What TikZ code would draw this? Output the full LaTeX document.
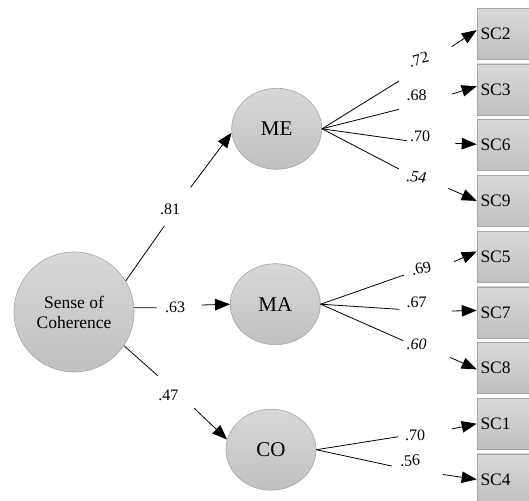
\documentclass[tikz,border=0pt]{standalone}
\usepackage{fontspec}
\setmainfont{Liberation Serif}
\usetikzlibrary{arrows.meta,shapes.geometric}
\definecolor{fillTop}{RGB}{216,216,216}
\definecolor{fillBot}{RGB}{192,192,192}
\definecolor{edgeGray}{RGB}{165,165,165}
\begin{document}
\begin{tikzpicture}[x=1pt,y=-1pt,
  latent/.style={ellipse,draw=edgeGray,line width=0.6pt,top color=fillTop,bottom color=fillBot,
     minimum width=90pt,minimum height=81pt,inner sep=0pt,font=\fontsize{21}{24}\selectfont},
  bigcirc/.style={circle,draw=edgeGray,line width=0.6pt,top color=fillTop,bottom color=fillBot,
     minimum size=120pt,inner sep=0pt,align=center,font=\fontsize{17.5}{20}\selectfont},
  obsbox/.style={rectangle,draw=edgeGray,line width=0.6pt,top color=fillTop,bottom color=fillBot,
     minimum height=51pt,text width=45pt,inner xsep=3.5pt,inner ysep=0pt,align=left,
     font=\fontsize{17.5}{20}\selectfont},
  coef/.style={inner sep=0pt,font=\fontsize{16}{18}\selectfont},
  seg/.style={line width=0.8pt},
  arr/.style={line width=0.8pt,-{Triangle[length=15pt,width=11.5pt]}}]
\useasboundingbox (0,0) rectangle (529,500);

% nodes
\node[bigcirc] (S) at (74,312) {Sense of\\Coherence};
\node[latent] (ME) at (276.7,128.8) {ME};
\node[latent] (MA) at (275.3,304.2) {MA};
\node[latent] (CO) at (271,449.7) {CO};

\node[obsbox] (SC2) at (503,33.8) {SC2};
\node[obsbox] (SC3) at (503,89.5) {SC3};
\node[obsbox] (SC6) at (503,145.2) {SC6};
\node[obsbox] (SC9) at (503,200.9) {SC9};
\node[obsbox] (SC5) at (503,256.6) {SC5};
\node[obsbox] (SC7) at (503,312.3) {SC7};
\node[obsbox] (SC8) at (503,368.0) {SC8};
\node[obsbox] (SC1) at (503,423.7) {SC1};
\node[obsbox] (SC4) at (503,479.4) {SC4};

% structural paths
\coordinate (sa1) at (164.3,226);   \coordinate (sa2) at (190.7,187.3);
\coordinate (sb1) at (156.7,307.7); \coordinate (sb2) at (201.7,305);
\coordinate (sc1) at (157.7,375.7); \coordinate (sc2) at (194.3,408.3);
\draw[seg] (S.31) -- (sa1);
\draw[arr] (sa2) -- (ME.185);
\node[coef] (l81) at (170,209.3) {.81};
\draw[seg] (S.4) -- (sb1);
\draw[arr] (sb2) -- (MA.180);
\node[coef] (l63) at (175,307.7) {.63};
\draw[seg] (S.-34) -- (sc1);
\draw[arr] (sc2) -- (CO.167);
\node[coef] (l47) at (168.3,395.7) {.47};

% ME loadings
\coordinate (e2a) at (399,81);      \coordinate (e2b) at (451.7,46.7);
\coordinate (e3a) at (399,109.3);   \coordinate (e3b) at (452.3,94);
\coordinate (e6a) at (406.7,140.7); \coordinate (e6b) at (455,143.3);
\coordinate (e9a) at (399,169);     \coordinate (e9b) at (448.3,188.3);
\draw[seg] (ME.east) -- (e2a); \draw[arr] (e2b) -- (SC2.172);
\draw[seg] (ME.east) -- (e3a); \draw[arr] (e3b) -- (SC3.173);
\draw[seg] (ME.east) -- (e6a); \draw[arr] (e6b) -- (SC6.178);
\draw[seg] (ME.east) -- (e9a); \draw[arr] (e9b) -- (SC9.180);
\node[coef,rotate=15] (l72) at (418.8,59.5) {.72};
\node[coef] (l68) at (416.7,95) {.68};
\node[coef] (l70a) at (420,136.7) {.70};
\node[coef,rotate=-6] (l54) at (416.5,177.5) {\itshape .54};

% MA loadings
\coordinate (a5a) at (404,275);     \coordinate (a5b) at (454,261.7);
\coordinate (a7a) at (399.3,309.3); \coordinate (a7b) at (451.7,311);
\coordinate (a8a) at (403.3,340.7); \coordinate (a8b) at (450,357.3);
\draw[seg] (MA.east) -- (a5a); \draw[arr] (a5b) -- (SC5.169);
\draw[seg] (MA.east) -- (a7a); \draw[arr] (a7b) -- (SC7.176);
\draw[seg] (MA.east) -- (a8a); \draw[arr] (a8b) -- (SC8.183);
\node[coef,rotate=12] (l69) at (421.2,268.6) {.69};
\node[coef] (l67) at (416.7,302.7) {.67};
\node[coef] (l60) at (416.5,344) {\itshape .60};

% CO loadings
\coordinate (c1a) at (398.3,436.7); \coordinate (c1b) at (451.7,429);
\coordinate (c4a) at (391.7,466);   \coordinate (c4b) at (443,474.5);
\draw[seg] (CO.east) -- (c1a); \draw[arr] (c1b) -- (SC1.180);
\draw[seg] (CO.east) -- (c4a); \draw[arr] (c4b) -- (SC4.180);
\node[coef] (l70b) at (415,435) {.70};
\node[coef,rotate=4] (l56) at (410,460.5) {.56};
\end{tikzpicture}
\end{document}
